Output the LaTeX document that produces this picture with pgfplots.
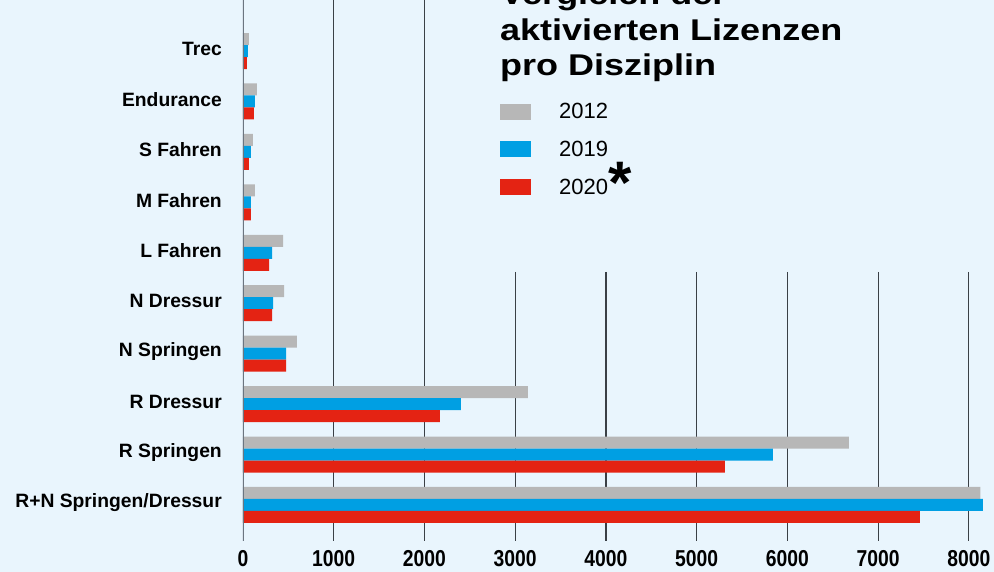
\documentclass[border=0pt]{standalone}
\usepackage{fontspec}
\setmainfont{Liberation Sans}
\newfontfamily\titlefont[FakeStretch=1.2]{Liberation Sans}
\newfontfamily\tickfont[FakeStretch=0.84]{Liberation Sans}
\usepackage{pgfplots}
\pgfplotsset{compat=1.18}
\definecolor{bg}{HTML}{E9F5FD}
\definecolor{cgray}{HTML}{B7B7B7}
\definecolor{cblue}{HTML}{009FE3}
\definecolor{cred}{HTML}{E42313}
\definecolor{gridc}{HTML}{3A4046}
\definecolor{axc}{HTML}{6B7580}
\begin{document}
\begin{tikzpicture}
\useasboundingbox (-243pt,51pt) rectangle (751pt,-521pt);
\clip (-243pt,51pt) rectangle (751pt,-521pt);
\fill[bg] (-243pt,51pt) rectangle (751pt,-521pt);
\begin{axis}[
  anchor=origin, at={(0pt,0pt)},
  scale only axis,
  x=0.09075pt, y=50.44pt,
  y dir=reverse,
  xmin=0, xmax=8275, ymin=-1.011, ymax=9.714,
  xbar=0pt, bar width=12pt,
  axis line style={draw=none},
  major tick length=0pt,
  xtick={0,1000,2000,3000,4000,5000,6000,7000,8000},
  xticklabels={0,1000,2000,3000,4000,5000,6000,7000,8000},
  xticklabel style={font=\tickfont\bfseries\fontsize{23}{23}\selectfont, inner sep=0pt, anchor=north, yshift=-9pt},
  ytick={0,1,2,3,4,5,6,7,8,9},
  yticklabels={Trec,Endurance,S Fahren,M Fahren,L Fahren,N Dressur,N Springen,R Dressur,R Springen,R+N Springen/Dressur},
  yticklabel style={font=\bfseries\fontsize{19.3}{19.3}\selectfont, inner sep=0pt, anchor=east, xshift=-21pt, yshift=2pt},
  legend style={at={(axis cs:2832,1.03)}, anchor=north west, draw=none, fill=none, inner sep=0pt,
    font=\fontsize{22}{22}\selectfont, nodes={inner sep=0pt}, row sep=21pt,
    /tikz/every odd column/.append style={column sep=28pt}},
  legend image code/.code={\path[#1, draw=none] (0pt,-8pt) rectangle (31pt,8pt);},
  legend cell align=left,
]
\draw[gridc, line width=1.1pt] (axis cs:1000,-1.011) -- (axis cs:1000,9.714);
\draw[gridc, line width=1.1pt] (axis cs:2000,-1.011) -- (axis cs:2000,9.714);
\pgfplotsinvokeforeach{3000,4000,5000,6000,7000,8000}{
  \draw[gridc, line width=1.1pt] (axis cs:#1,4.38) -- (axis cs:#1,9.714);
}
\addplot[fill=cgray, draw=none, bar shift=12pt] coordinates {(66,0) (154,1) (110,2) (132,3) (441,4) (452,5) (595,6) (3140,7) (6678,8) (8125,9)};
\addplot[fill=cblue, draw=none, bar shift=0pt] coordinates {(55,0) (132,1) (88,2) (88,3) (320,4) (331,5) (474,6) (2402,7) (5840,8) (8154,9)};
\addplot[fill=cred, draw=none, bar shift=-12pt] coordinates {(44,0) (121,1) (66,2) (88,3) (287,4) (320,5) (474,6) (2171,7) (5311,8) (7460,9)};
\draw[axc, line width=2.5pt] (axis cs:0,-1.011) -- (axis cs:0,9.714);
\legend{2012,2019,{2020\rlap{\smash{\raisebox{-9pt}{\fontsize{60}{60}\selectfont\bfseries *}}}}}
\end{axis}
\node[anchor=base west, font=\titlefont\bfseries\fontsize{30}{36}\selectfont, inner sep=0pt] at (257pt,46pt) {Vergleich der};
\node[anchor=base west, font=\titlefont\bfseries\fontsize{30}{36}\selectfont, inner sep=0pt] at (257pt,10pt) {aktivierten Lizenzen};
\node[anchor=base west, font=\titlefont\bfseries\fontsize{30}{36}\selectfont, inner sep=0pt] at (257pt,-25pt) {pro Disziplin};
\end{tikzpicture}
\end{document}
